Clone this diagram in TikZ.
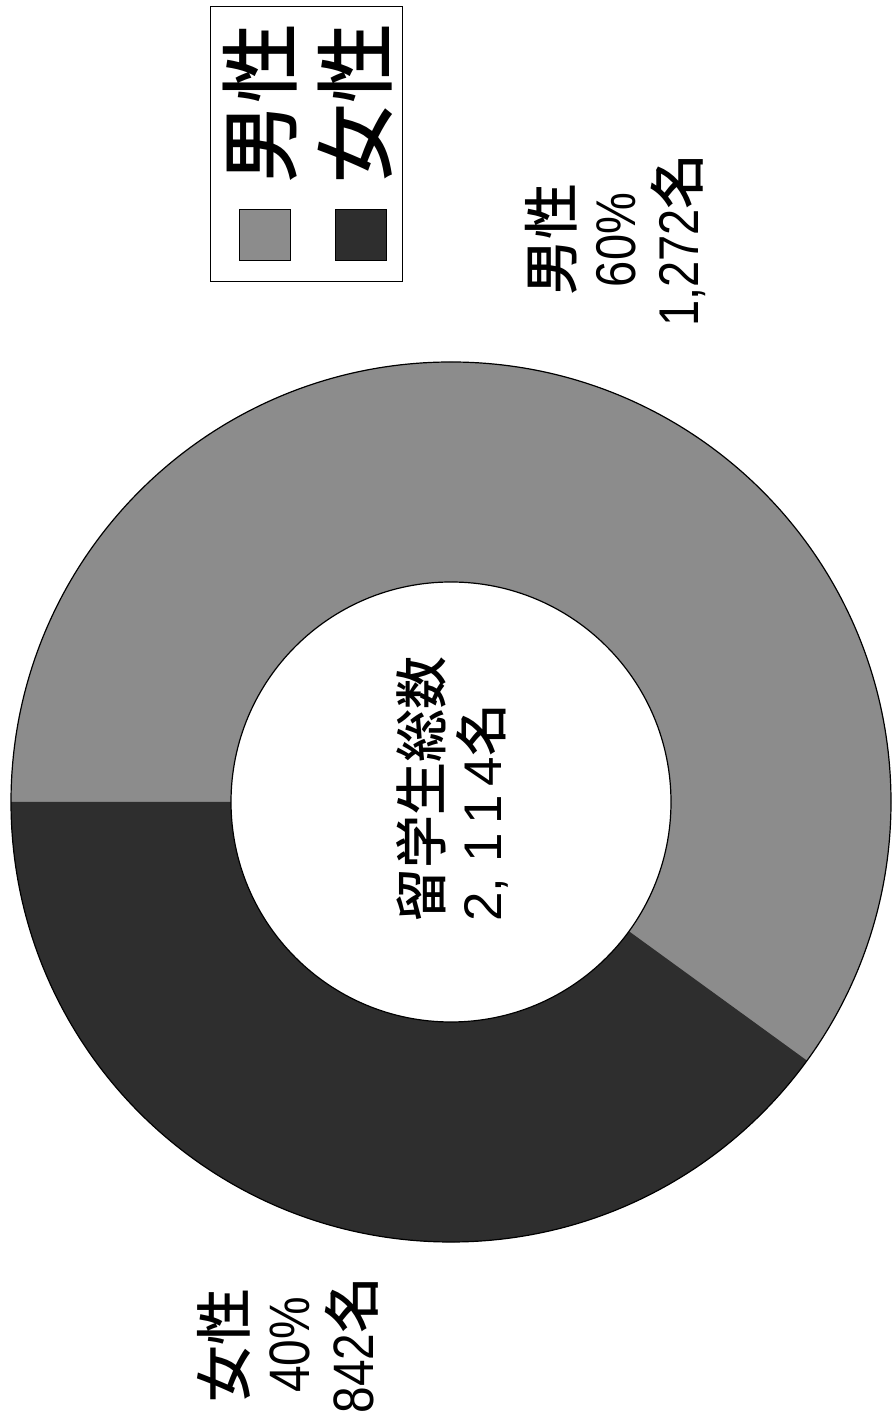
\documentclass[tikz,border=0pt]{standalone}
\usepackage{fontspec}
\setmainfont{Liberation Sans}
\newfontfamily\cjk{Noto Sans CJK JP Medium}
\newcommand{\narr}[1]{\scalebox{0.84}[1]{#1}}
\definecolor{malegray}{HTML}{8C8C8C}
\definecolor{femdark}{HTML}{2E2E2E}
\begin{document}
\begin{tikzpicture}[x=1pt,y=1pt,
  lbl/.style={rotate=90, align=center, inner sep=0pt, font=\fontsize{56}{63}\selectfont},
  legtxt/.style={rotate=90, inner sep=0pt, font=\fontsize{80}{90}\selectfont\cjk},
  legsq/.style={draw=black, line width=0.8, minimum size=51, inner sep=0pt},
  ringline/.style={draw=black, line width=1.2}]
\useasboundingbox (0,0) rectangle (893,1421);
\fill[white] (0,0) rectangle (893,1421);
% donut
\coordinate (c) at (451,619);
\fill[malegray] (c) circle[radius=440];
\fill[femdark] (c) -- ++(-36:440) arc[start angle=-36,end angle=-180,radius=440] -- cycle;
\draw[ringline] (c) circle[radius=440];
\fill[white] (c) circle[radius=220];
\draw[ringline] (c) circle[radius=220];
% centre text
\node[rotate=90, anchor=west, align=left, inner sep=0pt,
      font=\fontsize{53}{60}\selectfont] (total) at (452,499)
  {{\cjk 留学生総数}\\2, 1\,1\,4{\cjk 名}};
% slice labels
\node[lbl] (male) at (615,1181) {{\cjk 男性}\\\narr{60\%}\\\narr{1,272}{\cjk 名}};
\node[lbl, font=\fontsize{57}{64}\selectfont] (female) at (288,76) {{\cjk 女性}\\\narr{40\%}\\\narr{842}{\cjk 名}};
% legend
\node[draw=black, line width=0.8, minimum width=192, minimum height=275, inner sep=0pt] (legend) at (306,1277.5) {};
\node[legsq, fill=malegray] (sqm) at (265,1186) {};
\node[legsq, fill=femdark] (sqf) at (361,1186) {};
\node[legtxt] (lm) at (260,1317) {男性};
\node[legtxt] (lf) at (355,1317) {女性};
\end{tikzpicture}
\end{document}
